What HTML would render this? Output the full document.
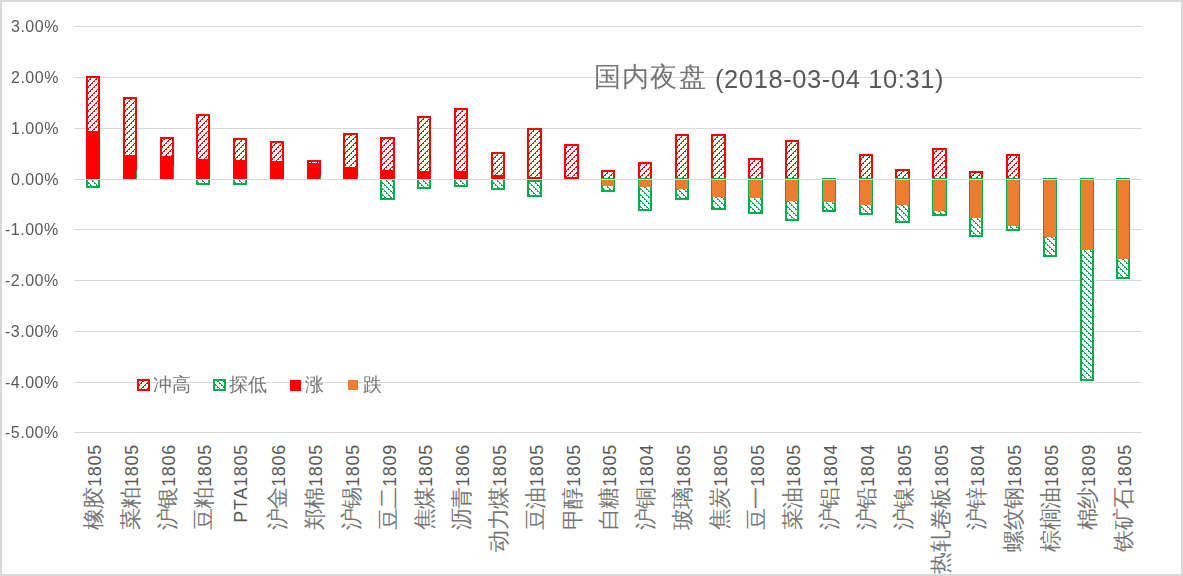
<!DOCTYPE html><html><head><meta charset="utf-8"><style>
html,body{margin:0;padding:0;background:#fff}
body{width:1183px;height:576px;position:relative;overflow:hidden;font-family:"Liberation Sans",sans-serif;color:#595959}
.frame{position:absolute;left:0;top:0;width:1183px;height:576px;box-sizing:border-box;border:2px solid #D9D9D9}
svg{position:absolute;left:0;top:0}
.yl{position:absolute;will-change:transform;right:1124.5px;font-size:16.00px;line-height:16px;letter-spacing:0.50px;white-space:nowrap}
.xl{position:absolute;width:200px;text-align:right;white-space:nowrap;transform-origin:100% 0;transform:rotate(-90deg);line-height:22px;height:22px;font-size:18.00px;letter-spacing:0.70px}
.xl .c{color:#767676;font-weight:300;font-size:21.50px;letter-spacing:-0.30px}
.t{position:absolute;will-change:transform;white-space:nowrap;line-height:34px}
.tc{color:#767676;font-weight:300;font-size:27.00px;letter-spacing:1.20px}
.td{font-size:25.50px;letter-spacing:0.60px}
.lg{position:absolute;will-change:transform;color:#767676;top:374.0px;font-weight:300;font-size:18.50px;line-height:22px;letter-spacing:0.00px;white-space:nowrap}

</style></head><body><div class="frame"></div>
<svg width="1183" height="576" viewBox="0 0 1183 576" shape-rendering="crispEdges"><defs><pattern id="p1" patternUnits="userSpaceOnUse" x="88" y="179" width="6" height="6"><rect width="6" height="6" fill="#fff"/><path d="M3,0h1v1h-1zM4,0h1v1h-1zM2,1h1v1h-1zM1,2h1v1h-1zM2,2h1v1h-1zM0,3h1v1h-1zM5,4h1v1h-1zM0,4h1v1h-1zM4,5h1v1h-1z" fill="#FF0000"/></pattern><pattern id="p2" patternUnits="userSpaceOnUse" x="88" y="179" width="6" height="6"><rect width="6" height="6" fill="#fff"/><path d="M3,0h1v1h-1zM2,0h1v1h-1zM4,1h1v1h-1zM5,2h1v1h-1zM4,2h1v1h-1zM0,3h1v1h-1zM1,4h1v1h-1zM0,4h1v1h-1zM2,5h1v1h-1z" fill="#00B050"/></pattern><pattern id="p3" patternUnits="userSpaceOnUse" x="125" y="179" width="6" height="6"><rect width="6" height="6" fill="#fff"/><path d="M3,0h1v1h-1zM4,0h1v1h-1zM2,1h1v1h-1zM1,2h1v1h-1zM2,2h1v1h-1zM0,3h1v1h-1zM5,4h1v1h-1zM0,4h1v1h-1zM4,5h1v1h-1z" fill="#FF0000"/></pattern><pattern id="p4" patternUnits="userSpaceOnUse" x="162" y="179" width="6" height="6"><rect width="6" height="6" fill="#fff"/><path d="M3,0h1v1h-1zM4,0h1v1h-1zM2,1h1v1h-1zM1,2h1v1h-1zM2,2h1v1h-1zM0,3h1v1h-1zM5,4h1v1h-1zM0,4h1v1h-1zM4,5h1v1h-1z" fill="#FF0000"/></pattern><pattern id="p5" patternUnits="userSpaceOnUse" x="198" y="179" width="6" height="6"><rect width="6" height="6" fill="#fff"/><path d="M3,0h1v1h-1zM4,0h1v1h-1zM2,1h1v1h-1zM1,2h1v1h-1zM2,2h1v1h-1zM0,3h1v1h-1zM5,4h1v1h-1zM0,4h1v1h-1zM4,5h1v1h-1z" fill="#FF0000"/></pattern><pattern id="p6" patternUnits="userSpaceOnUse" x="198" y="179" width="6" height="6"><rect width="6" height="6" fill="#fff"/><path d="M3,0h1v1h-1zM2,0h1v1h-1zM4,1h1v1h-1zM5,2h1v1h-1zM4,2h1v1h-1zM0,3h1v1h-1zM1,4h1v1h-1zM0,4h1v1h-1zM2,5h1v1h-1z" fill="#00B050"/></pattern><pattern id="p7" patternUnits="userSpaceOnUse" x="235" y="179" width="6" height="6"><rect width="6" height="6" fill="#fff"/><path d="M3,0h1v1h-1zM4,0h1v1h-1zM2,1h1v1h-1zM1,2h1v1h-1zM2,2h1v1h-1zM0,3h1v1h-1zM5,4h1v1h-1zM0,4h1v1h-1zM4,5h1v1h-1z" fill="#FF0000"/></pattern><pattern id="p8" patternUnits="userSpaceOnUse" x="235" y="179" width="6" height="6"><rect width="6" height="6" fill="#fff"/><path d="M3,0h1v1h-1zM2,0h1v1h-1zM4,1h1v1h-1zM5,2h1v1h-1zM4,2h1v1h-1zM0,3h1v1h-1zM1,4h1v1h-1zM0,4h1v1h-1zM2,5h1v1h-1z" fill="#00B050"/></pattern><pattern id="p9" patternUnits="userSpaceOnUse" x="272" y="179" width="6" height="6"><rect width="6" height="6" fill="#fff"/><path d="M3,0h1v1h-1zM4,0h1v1h-1zM2,1h1v1h-1zM1,2h1v1h-1zM2,2h1v1h-1zM0,3h1v1h-1zM5,4h1v1h-1zM0,4h1v1h-1zM4,5h1v1h-1z" fill="#FF0000"/></pattern><pattern id="p10" patternUnits="userSpaceOnUse" x="309" y="179" width="6" height="6"><rect width="6" height="6" fill="#fff"/><path d="M3,0h1v1h-1zM4,0h1v1h-1zM2,1h1v1h-1zM1,2h1v1h-1zM2,2h1v1h-1zM0,3h1v1h-1zM5,4h1v1h-1zM0,4h1v1h-1zM4,5h1v1h-1z" fill="#FF0000"/></pattern><pattern id="p11" patternUnits="userSpaceOnUse" x="345" y="179" width="6" height="6"><rect width="6" height="6" fill="#fff"/><path d="M3,0h1v1h-1zM4,0h1v1h-1zM2,1h1v1h-1zM1,2h1v1h-1zM2,2h1v1h-1zM0,3h1v1h-1zM5,4h1v1h-1zM0,4h1v1h-1zM4,5h1v1h-1z" fill="#FF0000"/></pattern><pattern id="p12" patternUnits="userSpaceOnUse" x="382" y="179" width="6" height="6"><rect width="6" height="6" fill="#fff"/><path d="M3,0h1v1h-1zM4,0h1v1h-1zM2,1h1v1h-1zM1,2h1v1h-1zM2,2h1v1h-1zM0,3h1v1h-1zM5,4h1v1h-1zM0,4h1v1h-1zM4,5h1v1h-1z" fill="#FF0000"/></pattern><pattern id="p13" patternUnits="userSpaceOnUse" x="382" y="179" width="6" height="6"><rect width="6" height="6" fill="#fff"/><path d="M3,0h1v1h-1zM2,0h1v1h-1zM4,1h1v1h-1zM5,2h1v1h-1zM4,2h1v1h-1zM0,3h1v1h-1zM1,4h1v1h-1zM0,4h1v1h-1zM2,5h1v1h-1z" fill="#00B050"/></pattern><pattern id="p14" patternUnits="userSpaceOnUse" x="419" y="179" width="6" height="6"><rect width="6" height="6" fill="#fff"/><path d="M3,0h1v1h-1zM4,0h1v1h-1zM2,1h1v1h-1zM1,2h1v1h-1zM2,2h1v1h-1zM0,3h1v1h-1zM5,4h1v1h-1zM0,4h1v1h-1zM4,5h1v1h-1z" fill="#FF0000"/></pattern><pattern id="p15" patternUnits="userSpaceOnUse" x="419" y="179" width="6" height="6"><rect width="6" height="6" fill="#fff"/><path d="M3,0h1v1h-1zM2,0h1v1h-1zM4,1h1v1h-1zM5,2h1v1h-1zM4,2h1v1h-1zM0,3h1v1h-1zM1,4h1v1h-1zM0,4h1v1h-1zM2,5h1v1h-1z" fill="#00B050"/></pattern><pattern id="p16" patternUnits="userSpaceOnUse" x="456" y="179" width="6" height="6"><rect width="6" height="6" fill="#fff"/><path d="M3,0h1v1h-1zM4,0h1v1h-1zM2,1h1v1h-1zM1,2h1v1h-1zM2,2h1v1h-1zM0,3h1v1h-1zM5,4h1v1h-1zM0,4h1v1h-1zM4,5h1v1h-1z" fill="#FF0000"/></pattern><pattern id="p17" patternUnits="userSpaceOnUse" x="456" y="179" width="6" height="6"><rect width="6" height="6" fill="#fff"/><path d="M3,0h1v1h-1zM2,0h1v1h-1zM4,1h1v1h-1zM5,2h1v1h-1zM4,2h1v1h-1zM0,3h1v1h-1zM1,4h1v1h-1zM0,4h1v1h-1zM2,5h1v1h-1z" fill="#00B050"/></pattern><pattern id="p18" patternUnits="userSpaceOnUse" x="493" y="179" width="6" height="6"><rect width="6" height="6" fill="#fff"/><path d="M3,0h1v1h-1zM4,0h1v1h-1zM2,1h1v1h-1zM1,2h1v1h-1zM2,2h1v1h-1zM0,3h1v1h-1zM5,4h1v1h-1zM0,4h1v1h-1zM4,5h1v1h-1z" fill="#FF0000"/></pattern><pattern id="p19" patternUnits="userSpaceOnUse" x="493" y="179" width="6" height="6"><rect width="6" height="6" fill="#fff"/><path d="M3,0h1v1h-1zM2,0h1v1h-1zM4,1h1v1h-1zM5,2h1v1h-1zM4,2h1v1h-1zM0,3h1v1h-1zM1,4h1v1h-1zM0,4h1v1h-1zM2,5h1v1h-1z" fill="#00B050"/></pattern><pattern id="p20" patternUnits="userSpaceOnUse" x="529" y="179" width="6" height="6"><rect width="6" height="6" fill="#fff"/><path d="M3,0h1v1h-1zM4,0h1v1h-1zM2,1h1v1h-1zM1,2h1v1h-1zM2,2h1v1h-1zM0,3h1v1h-1zM5,4h1v1h-1zM0,4h1v1h-1zM4,5h1v1h-1z" fill="#FF0000"/></pattern><pattern id="p21" patternUnits="userSpaceOnUse" x="529" y="179" width="6" height="6"><rect width="6" height="6" fill="#fff"/><path d="M3,0h1v1h-1zM2,0h1v1h-1zM4,1h1v1h-1zM5,2h1v1h-1zM4,2h1v1h-1zM0,3h1v1h-1zM1,4h1v1h-1zM0,4h1v1h-1zM2,5h1v1h-1z" fill="#00B050"/></pattern><pattern id="p22" patternUnits="userSpaceOnUse" x="566" y="179" width="6" height="6"><rect width="6" height="6" fill="#fff"/><path d="M3,0h1v1h-1zM4,0h1v1h-1zM2,1h1v1h-1zM1,2h1v1h-1zM2,2h1v1h-1zM0,3h1v1h-1zM5,4h1v1h-1zM0,4h1v1h-1zM4,5h1v1h-1z" fill="#FF0000"/></pattern><pattern id="p23" patternUnits="userSpaceOnUse" x="603" y="179" width="6" height="6"><rect width="6" height="6" fill="#fff"/><path d="M3,0h1v1h-1zM4,0h1v1h-1zM2,1h1v1h-1zM1,2h1v1h-1zM2,2h1v1h-1zM0,3h1v1h-1zM5,4h1v1h-1zM0,4h1v1h-1zM4,5h1v1h-1z" fill="#FF0000"/></pattern><pattern id="p24" patternUnits="userSpaceOnUse" x="603" y="179" width="6" height="6"><rect width="6" height="6" fill="#fff"/><path d="M3,0h1v1h-1zM4,0h1v1h-1zM2,1h1v1h-1zM1,2h1v1h-1zM2,2h1v1h-1zM0,3h1v1h-1zM5,4h1v1h-1zM0,4h1v1h-1zM4,5h1v1h-1z" fill="#FF0000"/></pattern><pattern id="p25" patternUnits="userSpaceOnUse" x="603" y="179" width="6" height="6"><rect width="6" height="6" fill="#fff"/><path d="M3,0h1v1h-1zM2,0h1v1h-1zM4,1h1v1h-1zM5,2h1v1h-1zM4,2h1v1h-1zM0,3h1v1h-1zM1,4h1v1h-1zM0,4h1v1h-1zM2,5h1v1h-1z" fill="#00B050"/></pattern><pattern id="p26" patternUnits="userSpaceOnUse" x="640" y="179" width="6" height="6"><rect width="6" height="6" fill="#fff"/><path d="M3,0h1v1h-1zM4,0h1v1h-1zM2,1h1v1h-1zM1,2h1v1h-1zM2,2h1v1h-1zM0,3h1v1h-1zM5,4h1v1h-1zM0,4h1v1h-1zM4,5h1v1h-1z" fill="#FF0000"/></pattern><pattern id="p27" patternUnits="userSpaceOnUse" x="640" y="179" width="6" height="6"><rect width="6" height="6" fill="#fff"/><path d="M3,0h1v1h-1zM4,0h1v1h-1zM2,1h1v1h-1zM1,2h1v1h-1zM2,2h1v1h-1zM0,3h1v1h-1zM5,4h1v1h-1zM0,4h1v1h-1zM4,5h1v1h-1z" fill="#FF0000"/></pattern><pattern id="p28" patternUnits="userSpaceOnUse" x="640" y="179" width="6" height="6"><rect width="6" height="6" fill="#fff"/><path d="M3,0h1v1h-1zM2,0h1v1h-1zM4,1h1v1h-1zM5,2h1v1h-1zM4,2h1v1h-1zM0,3h1v1h-1zM1,4h1v1h-1zM0,4h1v1h-1zM2,5h1v1h-1z" fill="#00B050"/></pattern><pattern id="p29" patternUnits="userSpaceOnUse" x="677" y="179" width="6" height="6"><rect width="6" height="6" fill="#fff"/><path d="M3,0h1v1h-1zM4,0h1v1h-1zM2,1h1v1h-1zM1,2h1v1h-1zM2,2h1v1h-1zM0,3h1v1h-1zM5,4h1v1h-1zM0,4h1v1h-1zM4,5h1v1h-1z" fill="#FF0000"/></pattern><pattern id="p30" patternUnits="userSpaceOnUse" x="677" y="179" width="6" height="6"><rect width="6" height="6" fill="#fff"/><path d="M3,0h1v1h-1zM4,0h1v1h-1zM2,1h1v1h-1zM1,2h1v1h-1zM2,2h1v1h-1zM0,3h1v1h-1zM5,4h1v1h-1zM0,4h1v1h-1zM4,5h1v1h-1z" fill="#FF0000"/></pattern><pattern id="p31" patternUnits="userSpaceOnUse" x="677" y="179" width="6" height="6"><rect width="6" height="6" fill="#fff"/><path d="M3,0h1v1h-1zM2,0h1v1h-1zM4,1h1v1h-1zM5,2h1v1h-1zM4,2h1v1h-1zM0,3h1v1h-1zM1,4h1v1h-1zM0,4h1v1h-1zM2,5h1v1h-1z" fill="#00B050"/></pattern><pattern id="p32" patternUnits="userSpaceOnUse" x="713" y="179" width="6" height="6"><rect width="6" height="6" fill="#fff"/><path d="M3,0h1v1h-1zM4,0h1v1h-1zM2,1h1v1h-1zM1,2h1v1h-1zM2,2h1v1h-1zM0,3h1v1h-1zM5,4h1v1h-1zM0,4h1v1h-1zM4,5h1v1h-1z" fill="#FF0000"/></pattern><pattern id="p33" patternUnits="userSpaceOnUse" x="713" y="179" width="6" height="6"><rect width="6" height="6" fill="#fff"/><path d="M3,0h1v1h-1zM4,0h1v1h-1zM2,1h1v1h-1zM1,2h1v1h-1zM2,2h1v1h-1zM0,3h1v1h-1zM5,4h1v1h-1zM0,4h1v1h-1zM4,5h1v1h-1z" fill="#FF0000"/></pattern><pattern id="p34" patternUnits="userSpaceOnUse" x="713" y="179" width="6" height="6"><rect width="6" height="6" fill="#fff"/><path d="M3,0h1v1h-1zM2,0h1v1h-1zM4,1h1v1h-1zM5,2h1v1h-1zM4,2h1v1h-1zM0,3h1v1h-1zM1,4h1v1h-1zM0,4h1v1h-1zM2,5h1v1h-1z" fill="#00B050"/></pattern><pattern id="p35" patternUnits="userSpaceOnUse" x="750" y="179" width="6" height="6"><rect width="6" height="6" fill="#fff"/><path d="M3,0h1v1h-1zM4,0h1v1h-1zM2,1h1v1h-1zM1,2h1v1h-1zM2,2h1v1h-1zM0,3h1v1h-1zM5,4h1v1h-1zM0,4h1v1h-1zM4,5h1v1h-1z" fill="#FF0000"/></pattern><pattern id="p36" patternUnits="userSpaceOnUse" x="750" y="179" width="6" height="6"><rect width="6" height="6" fill="#fff"/><path d="M3,0h1v1h-1zM4,0h1v1h-1zM2,1h1v1h-1zM1,2h1v1h-1zM2,2h1v1h-1zM0,3h1v1h-1zM5,4h1v1h-1zM0,4h1v1h-1zM4,5h1v1h-1z" fill="#FF0000"/></pattern><pattern id="p37" patternUnits="userSpaceOnUse" x="750" y="179" width="6" height="6"><rect width="6" height="6" fill="#fff"/><path d="M3,0h1v1h-1zM2,0h1v1h-1zM4,1h1v1h-1zM5,2h1v1h-1zM4,2h1v1h-1zM0,3h1v1h-1zM1,4h1v1h-1zM0,4h1v1h-1zM2,5h1v1h-1z" fill="#00B050"/></pattern><pattern id="p38" patternUnits="userSpaceOnUse" x="787" y="179" width="6" height="6"><rect width="6" height="6" fill="#fff"/><path d="M3,0h1v1h-1zM4,0h1v1h-1zM2,1h1v1h-1zM1,2h1v1h-1zM2,2h1v1h-1zM0,3h1v1h-1zM5,4h1v1h-1zM0,4h1v1h-1zM4,5h1v1h-1z" fill="#FF0000"/></pattern><pattern id="p39" patternUnits="userSpaceOnUse" x="787" y="179" width="6" height="6"><rect width="6" height="6" fill="#fff"/><path d="M3,0h1v1h-1zM4,0h1v1h-1zM2,1h1v1h-1zM1,2h1v1h-1zM2,2h1v1h-1zM0,3h1v1h-1zM5,4h1v1h-1zM0,4h1v1h-1zM4,5h1v1h-1z" fill="#FF0000"/></pattern><pattern id="p40" patternUnits="userSpaceOnUse" x="787" y="179" width="6" height="6"><rect width="6" height="6" fill="#fff"/><path d="M3,0h1v1h-1zM2,0h1v1h-1zM4,1h1v1h-1zM5,2h1v1h-1zM4,2h1v1h-1zM0,3h1v1h-1zM1,4h1v1h-1zM0,4h1v1h-1zM2,5h1v1h-1z" fill="#00B050"/></pattern><pattern id="p41" patternUnits="userSpaceOnUse" x="824" y="179" width="6" height="6"><rect width="6" height="6" fill="#fff"/><path d="M3,0h1v1h-1zM2,0h1v1h-1zM4,1h1v1h-1zM5,2h1v1h-1zM4,2h1v1h-1zM0,3h1v1h-1zM1,4h1v1h-1zM0,4h1v1h-1zM2,5h1v1h-1z" fill="#00B050"/></pattern><pattern id="p42" patternUnits="userSpaceOnUse" x="861" y="179" width="6" height="6"><rect width="6" height="6" fill="#fff"/><path d="M3,0h1v1h-1zM4,0h1v1h-1zM2,1h1v1h-1zM1,2h1v1h-1zM2,2h1v1h-1zM0,3h1v1h-1zM5,4h1v1h-1zM0,4h1v1h-1zM4,5h1v1h-1z" fill="#FF0000"/></pattern><pattern id="p43" patternUnits="userSpaceOnUse" x="861" y="179" width="6" height="6"><rect width="6" height="6" fill="#fff"/><path d="M3,0h1v1h-1zM4,0h1v1h-1zM2,1h1v1h-1zM1,2h1v1h-1zM2,2h1v1h-1zM0,3h1v1h-1zM5,4h1v1h-1zM0,4h1v1h-1zM4,5h1v1h-1z" fill="#FF0000"/></pattern><pattern id="p44" patternUnits="userSpaceOnUse" x="861" y="179" width="6" height="6"><rect width="6" height="6" fill="#fff"/><path d="M3,0h1v1h-1zM2,0h1v1h-1zM4,1h1v1h-1zM5,2h1v1h-1zM4,2h1v1h-1zM0,3h1v1h-1zM1,4h1v1h-1zM0,4h1v1h-1zM2,5h1v1h-1z" fill="#00B050"/></pattern><pattern id="p45" patternUnits="userSpaceOnUse" x="897" y="179" width="6" height="6"><rect width="6" height="6" fill="#fff"/><path d="M3,0h1v1h-1zM4,0h1v1h-1zM2,1h1v1h-1zM1,2h1v1h-1zM2,2h1v1h-1zM0,3h1v1h-1zM5,4h1v1h-1zM0,4h1v1h-1zM4,5h1v1h-1z" fill="#FF0000"/></pattern><pattern id="p46" patternUnits="userSpaceOnUse" x="897" y="179" width="6" height="6"><rect width="6" height="6" fill="#fff"/><path d="M3,0h1v1h-1zM4,0h1v1h-1zM2,1h1v1h-1zM1,2h1v1h-1zM2,2h1v1h-1zM0,3h1v1h-1zM5,4h1v1h-1zM0,4h1v1h-1zM4,5h1v1h-1z" fill="#FF0000"/></pattern><pattern id="p47" patternUnits="userSpaceOnUse" x="897" y="179" width="6" height="6"><rect width="6" height="6" fill="#fff"/><path d="M3,0h1v1h-1zM2,0h1v1h-1zM4,1h1v1h-1zM5,2h1v1h-1zM4,2h1v1h-1zM0,3h1v1h-1zM1,4h1v1h-1zM0,4h1v1h-1zM2,5h1v1h-1z" fill="#00B050"/></pattern><pattern id="p48" patternUnits="userSpaceOnUse" x="934" y="179" width="6" height="6"><rect width="6" height="6" fill="#fff"/><path d="M3,0h1v1h-1zM4,0h1v1h-1zM2,1h1v1h-1zM1,2h1v1h-1zM2,2h1v1h-1zM0,3h1v1h-1zM5,4h1v1h-1zM0,4h1v1h-1zM4,5h1v1h-1z" fill="#FF0000"/></pattern><pattern id="p49" patternUnits="userSpaceOnUse" x="934" y="179" width="6" height="6"><rect width="6" height="6" fill="#fff"/><path d="M3,0h1v1h-1zM4,0h1v1h-1zM2,1h1v1h-1zM1,2h1v1h-1zM2,2h1v1h-1zM0,3h1v1h-1zM5,4h1v1h-1zM0,4h1v1h-1zM4,5h1v1h-1z" fill="#FF0000"/></pattern><pattern id="p50" patternUnits="userSpaceOnUse" x="934" y="179" width="6" height="6"><rect width="6" height="6" fill="#fff"/><path d="M3,0h1v1h-1zM2,0h1v1h-1zM4,1h1v1h-1zM5,2h1v1h-1zM4,2h1v1h-1zM0,3h1v1h-1zM1,4h1v1h-1zM0,4h1v1h-1zM2,5h1v1h-1z" fill="#00B050"/></pattern><pattern id="p51" patternUnits="userSpaceOnUse" x="971" y="179" width="6" height="6"><rect width="6" height="6" fill="#fff"/><path d="M3,0h1v1h-1zM4,0h1v1h-1zM2,1h1v1h-1zM1,2h1v1h-1zM2,2h1v1h-1zM0,3h1v1h-1zM5,4h1v1h-1zM0,4h1v1h-1zM4,5h1v1h-1z" fill="#FF0000"/></pattern><pattern id="p52" patternUnits="userSpaceOnUse" x="971" y="179" width="6" height="6"><rect width="6" height="6" fill="#fff"/><path d="M3,0h1v1h-1zM4,0h1v1h-1zM2,1h1v1h-1zM1,2h1v1h-1zM2,2h1v1h-1zM0,3h1v1h-1zM5,4h1v1h-1zM0,4h1v1h-1zM4,5h1v1h-1z" fill="#FF0000"/></pattern><pattern id="p53" patternUnits="userSpaceOnUse" x="971" y="179" width="6" height="6"><rect width="6" height="6" fill="#fff"/><path d="M3,0h1v1h-1zM2,0h1v1h-1zM4,1h1v1h-1zM5,2h1v1h-1zM4,2h1v1h-1zM0,3h1v1h-1zM1,4h1v1h-1zM0,4h1v1h-1zM2,5h1v1h-1z" fill="#00B050"/></pattern><pattern id="p54" patternUnits="userSpaceOnUse" x="1008" y="179" width="6" height="6"><rect width="6" height="6" fill="#fff"/><path d="M3,0h1v1h-1zM4,0h1v1h-1zM2,1h1v1h-1zM1,2h1v1h-1zM2,2h1v1h-1zM0,3h1v1h-1zM5,4h1v1h-1zM0,4h1v1h-1zM4,5h1v1h-1z" fill="#FF0000"/></pattern><pattern id="p55" patternUnits="userSpaceOnUse" x="1008" y="179" width="6" height="6"><rect width="6" height="6" fill="#fff"/><path d="M3,0h1v1h-1zM4,0h1v1h-1zM2,1h1v1h-1zM1,2h1v1h-1zM2,2h1v1h-1zM0,3h1v1h-1zM5,4h1v1h-1zM0,4h1v1h-1zM4,5h1v1h-1z" fill="#FF0000"/></pattern><pattern id="p56" patternUnits="userSpaceOnUse" x="1008" y="179" width="6" height="6"><rect width="6" height="6" fill="#fff"/><path d="M3,0h1v1h-1zM2,0h1v1h-1zM4,1h1v1h-1zM5,2h1v1h-1zM4,2h1v1h-1zM0,3h1v1h-1zM1,4h1v1h-1zM0,4h1v1h-1zM2,5h1v1h-1z" fill="#00B050"/></pattern><pattern id="p57" patternUnits="userSpaceOnUse" x="1045" y="179" width="6" height="6"><rect width="6" height="6" fill="#fff"/><path d="M3,0h1v1h-1zM2,0h1v1h-1zM4,1h1v1h-1zM5,2h1v1h-1zM4,2h1v1h-1zM0,3h1v1h-1zM1,4h1v1h-1zM0,4h1v1h-1zM2,5h1v1h-1z" fill="#00B050"/></pattern><pattern id="p58" patternUnits="userSpaceOnUse" x="1082" y="179" width="6" height="6"><rect width="6" height="6" fill="#fff"/><path d="M3,0h1v1h-1zM2,0h1v1h-1zM4,1h1v1h-1zM5,2h1v1h-1zM4,2h1v1h-1zM0,3h1v1h-1zM1,4h1v1h-1zM0,4h1v1h-1zM2,5h1v1h-1z" fill="#00B050"/></pattern><pattern id="p59" patternUnits="userSpaceOnUse" x="1118" y="179" width="6" height="6"><rect width="6" height="6" fill="#fff"/><path d="M3,0h1v1h-1zM2,0h1v1h-1zM4,1h1v1h-1zM5,2h1v1h-1zM4,2h1v1h-1zM0,3h1v1h-1zM1,4h1v1h-1zM0,4h1v1h-1zM2,5h1v1h-1z" fill="#00B050"/></pattern><pattern id="p60" patternUnits="userSpaceOnUse" x="139" y="381" width="6" height="6"><rect width="6" height="6" fill="#fff"/><path d="M3,0h1v1h-1zM4,0h1v1h-1zM2,1h1v1h-1zM1,2h1v1h-1zM2,2h1v1h-1zM0,3h1v1h-1zM5,4h1v1h-1zM0,4h1v1h-1zM4,5h1v1h-1z" fill="#FF0000"/></pattern><pattern id="p61" patternUnits="userSpaceOnUse" x="215" y="381" width="6" height="6"><rect width="6" height="6" fill="#fff"/><path d="M3,0h1v1h-1zM2,0h1v1h-1zM4,1h1v1h-1zM5,2h1v1h-1zM4,2h1v1h-1zM0,3h1v1h-1zM1,4h1v1h-1zM0,4h1v1h-1zM2,5h1v1h-1z" fill="#00B050"/></pattern></defs><rect x="74" y="26" width="1068" height="1" fill="#D9D9D9"/><rect x="74" y="77" width="1068" height="1" fill="#D9D9D9"/><rect x="74" y="128" width="1068" height="1" fill="#D9D9D9"/><rect x="74" y="179" width="1068" height="1" fill="#D9D9D9"/><rect x="74" y="229" width="1068" height="1" fill="#D9D9D9"/><rect x="74" y="280" width="1068" height="1" fill="#D9D9D9"/><rect x="74" y="331" width="1068" height="1" fill="#D9D9D9"/><rect x="74" y="382" width="1068" height="1" fill="#D9D9D9"/><rect x="74" y="432" width="1068" height="1" fill="#D9D9D9"/><rect x="88" y="78" width="10" height="99" fill="url(#p1)"/><rect x="87" y="77" width="12" height="101" fill="none" stroke="#FF0000" stroke-width="2"/><rect x="86" y="131" width="14" height="48" fill="#FF0000"/><rect x="88" y="180" width="10" height="6" fill="url(#p2)"/><path d="M87,180 V187 H99 V180" fill="none" stroke="#00B050" stroke-width="2"/><rect x="125" y="99" width="10" height="78" fill="url(#p3)"/><rect x="124" y="98" width="12" height="80" fill="none" stroke="#FF0000" stroke-width="2"/><rect x="123" y="155" width="14" height="24" fill="#FF0000"/><rect x="136" y="170" width="1" height="9" fill="#00B050"/><rect x="162" y="139" width="10" height="38" fill="url(#p4)"/><rect x="161" y="138" width="12" height="40" fill="none" stroke="#FF0000" stroke-width="2"/><rect x="160" y="156" width="14" height="23" fill="#FF0000"/><rect x="173" y="166" width="1" height="13" fill="#00B050"/><rect x="198" y="116" width="10" height="61" fill="url(#p5)"/><rect x="197" y="115" width="12" height="63" fill="none" stroke="#FF0000" stroke-width="2"/><rect x="196" y="159" width="14" height="20" fill="#FF0000"/><rect x="198" y="180" width="10" height="3" fill="url(#p6)"/><path d="M197,180 V184 H209 V180" fill="none" stroke="#00B050" stroke-width="2"/><rect x="235" y="140" width="10" height="37" fill="url(#p7)"/><rect x="234" y="139" width="12" height="39" fill="none" stroke="#FF0000" stroke-width="2"/><rect x="233" y="160" width="14" height="19" fill="#FF0000"/><rect x="235" y="180" width="10" height="3" fill="url(#p8)"/><path d="M234,180 V184 H246 V180" fill="none" stroke="#00B050" stroke-width="2"/><rect x="272" y="143" width="10" height="34" fill="url(#p9)"/><rect x="271" y="142" width="12" height="36" fill="none" stroke="#FF0000" stroke-width="2"/><rect x="270" y="161" width="14" height="18" fill="#FF0000"/><rect x="309" y="162" width="10" height="15" fill="url(#p10)"/><rect x="308" y="161" width="12" height="17" fill="none" stroke="#FF0000" stroke-width="2"/><rect x="307" y="163" width="14" height="16" fill="#FF0000"/><rect x="320" y="176" width="1" height="3" fill="#00B050"/><rect x="345" y="135" width="11" height="42" fill="url(#p11)"/><rect x="344" y="134" width="13" height="44" fill="none" stroke="#FF0000" stroke-width="2"/><rect x="343" y="167" width="15" height="12" fill="#FF0000"/><rect x="357" y="176" width="1" height="3" fill="#00B050"/><rect x="382" y="139" width="11" height="38" fill="url(#p12)"/><rect x="381" y="138" width="13" height="40" fill="none" stroke="#FF0000" stroke-width="2"/><rect x="380" y="170" width="15" height="9" fill="#FF0000"/><rect x="382" y="180" width="11" height="18" fill="url(#p13)"/><path d="M381,180 V199 H394 V180" fill="none" stroke="#00B050" stroke-width="2"/><rect x="419" y="118" width="10" height="59" fill="url(#p14)"/><rect x="418" y="117" width="12" height="61" fill="none" stroke="#FF0000" stroke-width="2"/><rect x="417" y="171" width="14" height="8" fill="#FF0000"/><rect x="419" y="180" width="10" height="7" fill="url(#p15)"/><path d="M418,180 V188 H430 V180" fill="none" stroke="#00B050" stroke-width="2"/><rect x="456" y="110" width="10" height="67" fill="url(#p16)"/><rect x="455" y="109" width="12" height="69" fill="none" stroke="#FF0000" stroke-width="2"/><rect x="454" y="171" width="14" height="8" fill="#FF0000"/><rect x="456" y="180" width="10" height="5" fill="url(#p17)"/><path d="M455,180 V186 H467 V180" fill="none" stroke="#00B050" stroke-width="2"/><rect x="493" y="154" width="10" height="23" fill="url(#p18)"/><rect x="492" y="153" width="12" height="25" fill="none" stroke="#FF0000" stroke-width="2"/><rect x="491" y="175" width="14" height="4" fill="#FF0000"/><rect x="493" y="180" width="10" height="8" fill="url(#p19)"/><path d="M492,180 V189 H504 V180" fill="none" stroke="#00B050" stroke-width="2"/><rect x="529" y="130" width="11" height="47" fill="url(#p20)"/><rect x="528" y="129" width="13" height="49" fill="none" stroke="#FF0000" stroke-width="2"/><rect x="529" y="182" width="11" height="13" fill="url(#p21)"/><rect x="528" y="181" width="13" height="15" fill="none" stroke="#00B050" stroke-width="2"/><rect x="566" y="146" width="11" height="31" fill="url(#p22)"/><rect x="565" y="145" width="13" height="33" fill="none" stroke="#FF0000" stroke-width="2"/><rect x="603" y="172" width="10" height="5" fill="url(#p23)"/><rect x="603" y="172" width="10" height="6" fill="url(#p24)"/><path d="M602,178 V171 H614 V178" fill="none" stroke="#FF0000" stroke-width="2"/><rect x="603" y="180" width="10" height="10" fill="url(#p25)"/><path d="M602,180 V191 H614 V180" fill="none" stroke="#00B050" stroke-width="2"/><rect x="601" y="178" width="14" height="1" fill="#00B050"/><rect x="602" y="180" width="12" height="6" fill="#ED7D31"/><rect x="640" y="164" width="10" height="13" fill="url(#p26)"/><rect x="640" y="164" width="10" height="14" fill="url(#p27)"/><path d="M639,178 V163 H651 V178" fill="none" stroke="#FF0000" stroke-width="2"/><rect x="640" y="180" width="10" height="29" fill="url(#p28)"/><path d="M639,180 V210 H651 V180" fill="none" stroke="#00B050" stroke-width="2"/><rect x="638" y="178" width="14" height="1" fill="#00B050"/><rect x="639" y="180" width="12" height="7" fill="#ED7D31"/><rect x="677" y="136" width="10" height="41" fill="url(#p29)"/><rect x="677" y="136" width="10" height="42" fill="url(#p30)"/><path d="M676,178 V135 H688 V178" fill="none" stroke="#FF0000" stroke-width="2"/><rect x="677" y="180" width="10" height="18" fill="url(#p31)"/><path d="M676,180 V199 H688 V180" fill="none" stroke="#00B050" stroke-width="2"/><rect x="675" y="178" width="14" height="1" fill="#00B050"/><rect x="676" y="180" width="12" height="9" fill="#ED7D31"/><rect x="713" y="136" width="11" height="41" fill="url(#p32)"/><rect x="713" y="136" width="11" height="42" fill="url(#p33)"/><path d="M712,178 V135 H725 V178" fill="none" stroke="#FF0000" stroke-width="2"/><rect x="713" y="180" width="11" height="28" fill="url(#p34)"/><path d="M712,180 V209 H725 V180" fill="none" stroke="#00B050" stroke-width="2"/><rect x="711" y="178" width="15" height="1" fill="#00B050"/><rect x="712" y="180" width="13" height="17" fill="#ED7D31"/><rect x="750" y="160" width="11" height="17" fill="url(#p35)"/><rect x="750" y="160" width="11" height="18" fill="url(#p36)"/><path d="M749,178 V159 H762 V178" fill="none" stroke="#FF0000" stroke-width="2"/><rect x="750" y="180" width="11" height="32" fill="url(#p37)"/><path d="M749,180 V213 H762 V180" fill="none" stroke="#00B050" stroke-width="2"/><rect x="748" y="178" width="15" height="1" fill="#00B050"/><rect x="749" y="180" width="13" height="18" fill="#ED7D31"/><rect x="787" y="142" width="10" height="35" fill="url(#p38)"/><rect x="787" y="142" width="10" height="36" fill="url(#p39)"/><path d="M786,178 V141 H798 V178" fill="none" stroke="#FF0000" stroke-width="2"/><rect x="787" y="180" width="10" height="39" fill="url(#p40)"/><path d="M786,180 V220 H798 V180" fill="none" stroke="#00B050" stroke-width="2"/><rect x="785" y="178" width="14" height="1" fill="#00B050"/><rect x="786" y="180" width="12" height="21" fill="#ED7D31"/><rect x="824" y="180" width="10" height="30" fill="url(#p41)"/><path d="M823,180 V211 H835 V180" fill="none" stroke="#00B050" stroke-width="2"/><rect x="822" y="178" width="14" height="1" fill="#00B050"/><rect x="823" y="180" width="12" height="22" fill="#ED7D31"/><rect x="861" y="156" width="10" height="21" fill="url(#p42)"/><rect x="861" y="156" width="10" height="22" fill="url(#p43)"/><path d="M860,178 V155 H872 V178" fill="none" stroke="#FF0000" stroke-width="2"/><rect x="861" y="180" width="10" height="33" fill="url(#p44)"/><path d="M860,180 V214 H872 V180" fill="none" stroke="#00B050" stroke-width="2"/><rect x="859" y="178" width="14" height="1" fill="#00B050"/><rect x="860" y="180" width="12" height="25" fill="#ED7D31"/><rect x="897" y="171" width="11" height="6" fill="url(#p45)"/><rect x="897" y="171" width="11" height="7" fill="url(#p46)"/><path d="M896,178 V170 H909 V178" fill="none" stroke="#FF0000" stroke-width="2"/><rect x="897" y="180" width="11" height="41" fill="url(#p47)"/><path d="M896,180 V222 H909 V180" fill="none" stroke="#00B050" stroke-width="2"/><rect x="895" y="178" width="15" height="1" fill="#00B050"/><rect x="896" y="180" width="13" height="25" fill="#ED7D31"/><rect x="934" y="150" width="11" height="27" fill="url(#p48)"/><rect x="934" y="150" width="11" height="28" fill="url(#p49)"/><path d="M933,178 V149 H946 V178" fill="none" stroke="#FF0000" stroke-width="2"/><rect x="934" y="180" width="11" height="34" fill="url(#p50)"/><path d="M933,180 V215 H946 V180" fill="none" stroke="#00B050" stroke-width="2"/><rect x="932" y="178" width="15" height="1" fill="#00B050"/><rect x="933" y="180" width="13" height="31" fill="#ED7D31"/><rect x="971" y="173" width="10" height="4" fill="url(#p51)"/><rect x="971" y="173" width="10" height="5" fill="url(#p52)"/><path d="M970,178 V172 H982 V178" fill="none" stroke="#FF0000" stroke-width="2"/><rect x="971" y="180" width="10" height="55" fill="url(#p53)"/><path d="M970,180 V236 H982 V180" fill="none" stroke="#00B050" stroke-width="2"/><rect x="969" y="178" width="14" height="1" fill="#00B050"/><rect x="970" y="180" width="12" height="38" fill="#ED7D31"/><rect x="1008" y="156" width="10" height="21" fill="url(#p54)"/><rect x="1008" y="156" width="10" height="22" fill="url(#p55)"/><path d="M1007,178 V155 H1019 V178" fill="none" stroke="#FF0000" stroke-width="2"/><rect x="1008" y="180" width="10" height="49" fill="url(#p56)"/><path d="M1007,180 V230 H1019 V180" fill="none" stroke="#00B050" stroke-width="2"/><rect x="1006" y="178" width="14" height="1" fill="#00B050"/><rect x="1007" y="180" width="12" height="46" fill="#ED7D31"/><rect x="1045" y="180" width="10" height="75" fill="url(#p57)"/><path d="M1044,180 V256 H1056 V180" fill="none" stroke="#00B050" stroke-width="2"/><rect x="1043" y="178" width="14" height="1" fill="#00B050"/><rect x="1044" y="180" width="12" height="57" fill="#ED7D31"/><rect x="1082" y="180" width="10" height="199" fill="url(#p58)"/><path d="M1081,180 V380 H1093 V180" fill="none" stroke="#00B050" stroke-width="2"/><rect x="1080" y="178" width="14" height="1" fill="#00B050"/><rect x="1081" y="180" width="12" height="70" fill="#ED7D31"/><rect x="1118" y="180" width="10" height="97" fill="url(#p59)"/><path d="M1117,180 V278 H1129 V180" fill="none" stroke="#00B050" stroke-width="2"/><rect x="1116" y="178" width="14" height="1" fill="#00B050"/><rect x="1117" y="180" width="12" height="79" fill="#ED7D31"/><rect x="137" y="379" width="13" height="12" fill="url(#p60)"/><rect x="138" y="380" width="11" height="10" fill="none" stroke="#FF0000" stroke-width="2"/><rect x="213" y="379" width="13" height="12" fill="url(#p61)"/><rect x="214" y="380" width="11" height="10" fill="none" stroke="#00B050" stroke-width="2"/><rect x="290" y="380" width="11" height="11" fill="#FF0000"/><rect x="348" y="380" width="10" height="10" fill="#ED7D31"/></svg>
<div class="yl" style="top:19.3px">3.00%</div>
<div class="yl" style="top:70.3px">2.00%</div>
<div class="yl" style="top:121.3px">1.00%</div>
<div class="yl" style="top:172.3px">0.00%</div>
<div class="yl" style="top:222.3px">-1.00%</div>
<div class="yl" style="top:273.3px">-2.00%</div>
<div class="yl" style="top:324.3px">-3.00%</div>
<div class="yl" style="top:375.3px">-4.00%</div>
<div class="yl" style="top:425.3px">-5.00%</div>
<div class="xl" style="left:-117.0px;top:444.3px"><span class="c">橡胶</span>1805</div>
<div class="xl" style="left:-80.0px;top:444.3px"><span class="c">菜粕</span>1805</div>
<div class="xl" style="left:-43.0px;top:444.3px"><span class="c">沪银</span>1806</div>
<div class="xl" style="left:-7.0px;top:444.3px"><span class="c">豆粕</span>1805</div>
<div class="xl" style="left:30.0px;top:444.3px">PTA1805</div>
<div class="xl" style="left:67.0px;top:444.3px"><span class="c">沪金</span>1806</div>
<div class="xl" style="left:104.0px;top:444.3px"><span class="c">郑棉</span>1805</div>
<div class="xl" style="left:140.5px;top:444.3px"><span class="c">沪锡</span>1805</div>
<div class="xl" style="left:177.5px;top:444.3px"><span class="c">豆二</span>1809</div>
<div class="xl" style="left:214.0px;top:444.3px"><span class="c">焦煤</span>1805</div>
<div class="xl" style="left:251.0px;top:444.3px"><span class="c">沥青</span>1806</div>
<div class="xl" style="left:288.0px;top:444.3px"><span class="c">动力煤</span>1805</div>
<div class="xl" style="left:324.5px;top:444.3px"><span class="c">豆油</span>1805</div>
<div class="xl" style="left:361.5px;top:444.3px"><span class="c">甲醇</span>1805</div>
<div class="xl" style="left:398.0px;top:444.3px"><span class="c">白糖</span>1805</div>
<div class="xl" style="left:435.0px;top:444.3px"><span class="c">沪铜</span>1804</div>
<div class="xl" style="left:472.0px;top:444.3px"><span class="c">玻璃</span>1805</div>
<div class="xl" style="left:508.5px;top:444.3px"><span class="c">焦炭</span>1805</div>
<div class="xl" style="left:545.5px;top:444.3px"><span class="c">豆一</span>1805</div>
<div class="xl" style="left:582.0px;top:444.3px"><span class="c">菜油</span>1805</div>
<div class="xl" style="left:619.0px;top:444.3px"><span class="c">沪铝</span>1804</div>
<div class="xl" style="left:656.0px;top:444.3px"><span class="c">沪铅</span>1804</div>
<div class="xl" style="left:692.5px;top:444.3px"><span class="c">沪镍</span>1805</div>
<div class="xl" style="left:729.5px;top:444.3px"><span class="c">热轧卷板</span>1805</div>
<div class="xl" style="left:766.0px;top:444.3px"><span class="c">沪锌</span>1804</div>
<div class="xl" style="left:803.0px;top:444.3px"><span class="c">螺纹钢</span>1805</div>
<div class="xl" style="left:840.0px;top:444.3px"><span class="c">棕榈油</span>1805</div>
<div class="xl" style="left:877.0px;top:444.3px"><span class="c">棉纱</span>1809</div>
<div class="xl" style="left:913.0px;top:444.3px"><span class="c">铁矿石</span>1805</div>
<div class="t tc" style="left:594.0px;top:60.0px">国内夜盘</div>
<div class="t td" style="left:715.0px;top:62.0px">(2018-03-04 10:31)</div>
<div class="lg" style="left:153.0px">冲高</div>
<div class="lg" style="left:229.0px">探低</div>
<div class="lg" style="left:305.0px">涨</div>
<div class="lg" style="left:363.0px">跌</div>
</body></html>
